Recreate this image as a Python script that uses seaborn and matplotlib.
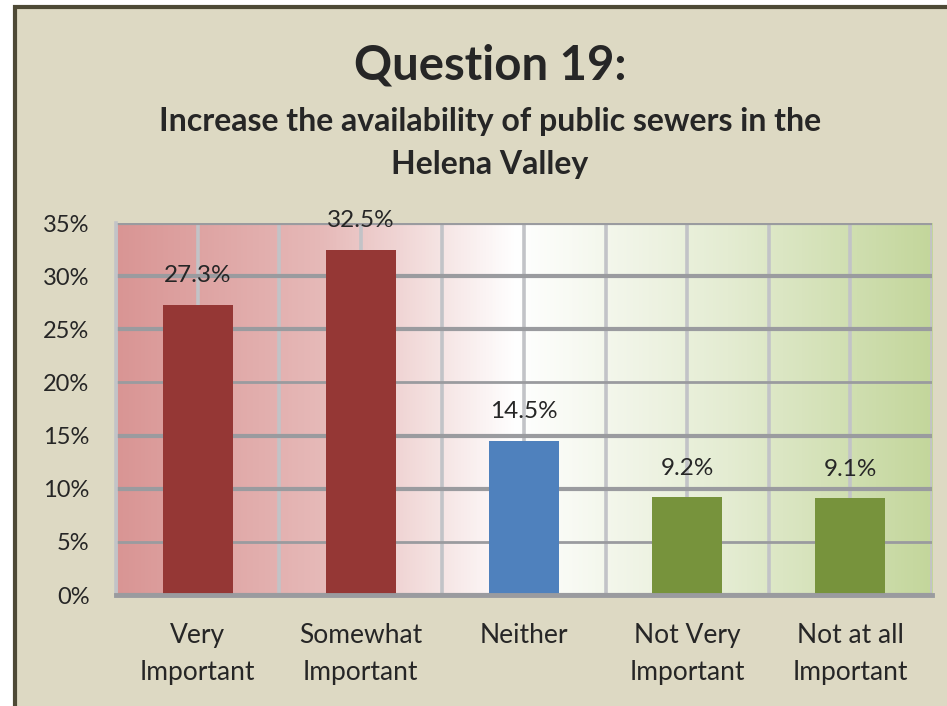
import numpy as np
import pandas as pd
import matplotlib
matplotlib.use("Agg")
import matplotlib.pyplot as plt
from matplotlib.patches import Rectangle
from matplotlib.colors import LinearSegmentedColormap
from matplotlib.ticker import FixedLocator, FuncFormatter
import seaborn as sns

# Survey responses
categories = ["Very\nImportant", "Somewhat\nImportant", "Neither",
              "Not Very\nImportant", "Not at all\nImportant"]
percentages = [27.3, 32.5, 14.5, 9.2, 9.1]
bar_colors = ["#953735", "#953735", "#4F81BD", "#77933C", "#77933C"]
y_ticks = [0, 5, 10, 15, 20, 25, 30, 35]

title = "Question 19:"
subtitle = "Increase the availability of public sewers in the\nHelena Valley"

sns.set_theme(style="white")
plt.rcParams["font.family"] = ["Lato", "DejaVu Sans"]

fig = plt.figure(figsize=(9.47, 7.06), dpi=100)
fig.patch.set_facecolor("white")

# beige chart card; only its top and left borders fall inside the figure
W, H = 947, 706
card = Rectangle((15 / W, -1), 2, 2 - 7 / H, transform=fig.transFigure,
                 facecolor="#DDD9C3", edgecolor="#4E4A36", linewidth=3,
                 zorder=-10)
fig.patches.append(card)

ax = fig.add_axes([116 / W, 1 - 595 / H, (932 - 116) / W, (595 - 223) / H])
ax.patch.set_alpha(0)

# red-white-green gradient behind the plot area
grad_cmap = LinearSegmentedColormap.from_list(
    "rwg", [(0.0, "#D99594"), (0.25, "#E6B9B8"), (0.49, "#FFFFFF"),
            (0.75, "#E4ECD2"), (1.0, "#C3D69B")])
grad = np.linspace(0, 1, 512).reshape(1, -1)
ax.imshow(grad, cmap=grad_cmap, aspect="auto", extent=(0, 1, 0, 1),
          transform=ax.transAxes, zorder=0.1, interpolation="bilinear")

df = pd.DataFrame({"category": categories, "value": percentages})
palette = dict(zip(categories, bar_colors))
sns.barplot(data=df, x="category", y="value", hue="category", palette=palette,
            legend=False, width=0.43, saturation=1, ax=ax, zorder=3,
            edgecolor="none", linewidth=0)

ax.set_xlim(-0.5, len(categories) - 0.5)
ax.set_ylim(0, 35)
ax.set_xlabel("")
ax.set_ylabel("")

# gridlines: dark horizontal, light vertical at centres and boundaries
ax.set_axisbelow(True)
ax.yaxis.set_major_locator(FixedLocator(y_ticks))
ax.yaxis.set_major_formatter(FuncFormatter(lambda v, p: f"{v:.0f}%"))
ax.grid(axis="y", which="major", color="#9A9B9F", linewidth=3.0, zorder=0.5)
for i, gl in enumerate(ax.get_ygridlines()):
    if y_ticks[i] in (5, 20):
        gl.set_linewidth(2.0)
ax.xaxis.set_minor_locator(FixedLocator(np.arange(-0.5, len(categories), 1.0)))
ax.grid(axis="x", which="both", color="#C2C3C7", linewidth=2.6, zorder=0.4)

for side in ("top", "right"):
    ax.spines[side].set_visible(False)
ax.spines["left"].set_color("#C2C3C7")
ax.spines["left"].set_linewidth(2.6)
ax.spines["bottom"].set_color("#9A9B9F")
ax.spines["bottom"].set_linewidth(3.5)
ax.spines["bottom"].set_zorder(4)

ax.tick_params(axis="y", which="major", direction="out", length=7, width=3.0,
               color="#9A9B9F", labelsize=17, labelcolor="#262626", pad=12)
ax.tick_params(axis="x", which="major", length=0, labelsize=19,
               labelcolor="#262626", pad=20)
ax.tick_params(axis="x", which="minor", direction="out", length=10, width=2.6,
               color="#A5A6AA")
for lbl in ax.get_xticklabels():
    lbl.set_linespacing(1.6)
    lbl.set_verticalalignment("top")

# value labels above bars
for i, v in enumerate(percentages):
    ax.annotate(f"{v:.1f}%", xy=(i, v), xytext=(0, 21), textcoords="offset points",
                ha="center", va="center", fontsize=17.5, color="#262626",
                zorder=5, annotation_clip=False)

fig.text(490 / W, 1 - 65 / H, title, ha="center", va="center",
         fontsize=34, fontweight="bold", color="#262626")
fig.text(490 / W, 1 - 143 / H, subtitle, ha="center", va="center",
         fontsize=23, fontweight="bold", color="#262626", linespacing=1.55)

fig.savefig("out.png", dpi=100)
